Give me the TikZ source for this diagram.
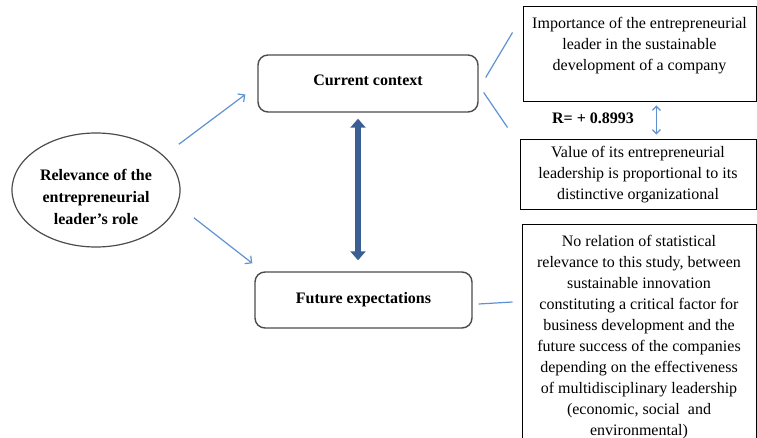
\documentclass[tikz,border=0pt]{standalone}
\usepackage{fontspec}
\setmainfont{Liberation Serif}
\usetikzlibrary{%
  arrows.meta,%
  calc,%
  shapes.geometric%
}
\definecolor{linkblue}{HTML}{5F92D2}
\definecolor{axisblue}{HTML}{3B5F92}
\tikzset{>=latex, txt/.style = {font=\fontsize{16}{21}\selectfont, align=center},
  stagebox/.style = {txt, draw=black!70, line width=1.4pt, rounded corners=10pt,
    font=\fontsize{16}{21}\selectfont\bfseries},
  infobox/.style = {txt, draw, line width=1pt, inner sep=0pt},
  link/.style = {linkblue, line width=1.2pt},
  bigarrow/.style = {axisblue, line width=6pt,
    {Triangle[width=15pt,length=9pt]}-{Triangle[width=15pt,length=9pt]}}}

\begin{document}
\begin{tikzpicture}[x=1pt,y=-1pt]
          \useasboundingbox (0,0) rectangle (757,438);
          \clip (0,0) rectangle (757,438);
          \node[ellipse,draw=black!70,line width=1.2pt,minimum width=168,
          minimum height=114,txt,font=\fontsize{16}{22}\selectfont\bfseries]
          (role) at (96,190) {\rule{0pt}{25pt}Relevance of the\\entrepreneurial\\
          leader’s role};
          \node[stagebox,minimum width=220,minimum height=57] (ctx) at (368,83.5)
          {Current context\rule[-6pt]{0pt}{0pt}};
          \node[stagebox,minimum width=217,minimum height=56] (fut) at (363.5,300)
          {Future expectations};
          \node[infobox,minimum width=233,minimum height=95] (imp) at (639.5,54.5)
          {Importance of the entrepreneurial\\leader in the sustainable\\
          development of a company\\\mbox{}};
          \node[infobox,minimum width=236,minimum height=70] (val) at (638,175)
          {Value of its entrepreneurial\\leadership is proportional to its\\
          distinctive organizational};
          \node[infobox,minimum width=234,minimum height=226,anchor=north] (rel)
          at (639,224) {No relation of statistical\\relevance to this study, between\\
          sustainable innovation\\constituting a critical factor for\\
          business development and the\\future success of the companies\\
          depending on the effectiveness\\of multidisciplinary leadership\\
          (economic, social \ and\\environmental)};
          \node[txt,font=\fontsize{16}{21}\selectfont\bfseries] (r) at (593,118)
          {R= + 0.8993};
          \coordinate (axis) at (358,0);
          \coordinate (rarr) at ($(r.east)+(19,0)$);
          \draw[link,-{Straight Barb[length=5pt,width=10pt]}]
          ($(role.north east)+(23,-5)$) -- ($(ctx.west)+(-12,11)$);
          \draw[link,-{Straight Barb[length=5pt,width=10pt]}]
          ($(role.south east)+(38,-13)$) -- ($(fut.north west)+(-2,-8)$);
          \draw[bigarrow,shorten <=6pt,shorten >=11pt] (ctx.south -| axis) --
          (fut.north -| axis);
          \draw[link] ($(ctx.east)+(7,-6)$) -- ($(imp.west)+(-10,-22)$);
          \draw[link] ($(ctx.east)+(5,9)$) -- ($(imp.south west)+(-15,25)$);
          \draw[link] ($(fut.east)+(6,4)$) -- ($(rel.north west)+(-9,78)$);
          \draw[link,{Straight Barb[length=4pt,width=8pt]}-{Straight Barb[length=4pt,width=8pt]},
          shorten <=3pt,shorten >=5pt] (imp.south -| rarr) -- (val.north -| rarr);
        \end{tikzpicture}
\end{document}
